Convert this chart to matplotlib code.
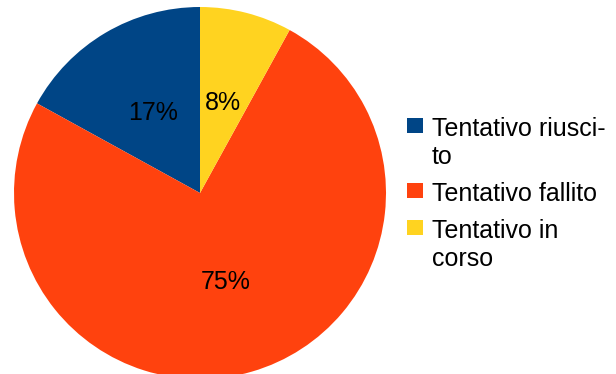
import matplotlib.pyplot as plt
from matplotlib.patches import Rectangle

labels = ["Tentativo riusci-\nto", "Tentativo fallito", "Tentativo in\ncorso"]
values = [17, 75, 8]
colors = ["#004586", "#ff420e", "#ffd320"]

plt.rcParams['font.family'] = ['Liberation Sans', 'DejaVu Sans']

W, H = 616, 374
fig = plt.figure(figsize=(W / 100, H / 100), dpi=100)

# pie axes: square box 372 px, centred at (200, 193) from top-left
ax = fig.add_axes([14 / W, (H - 379) / H, 372 / W, 372 / H])
ax.pie(values, colors=colors, startangle=90, counterclock=True,
       autopct=lambda p: '%d%%' % round(p), pctdistance=0.5,
       wedgeprops=dict(linewidth=0),
       textprops=dict(fontsize=18, color='black'))
ax.set_xlim(-1, 1)
ax.set_ylim(-1, 1)
ax.set_aspect('equal')
ax.axis('off')

# legend drawn by hand so the square sits next to the first line
y = 136
for lab, col in zip(labels, colors):
    fig.add_artist(Rectangle((407 / W, (H - y + 3) / H), 16 / W, 15 / H,
                             transform=fig.transFigure, facecolor=col,
                             edgecolor='none'))
    for line in lab.split('\n'):
        fig.text(432 / W, (H - y) / H, line, fontsize=18, color='black',
                 va='baseline', ha='left')
        y += 28
    y += 9

fig.savefig('out.png', dpi=100)
